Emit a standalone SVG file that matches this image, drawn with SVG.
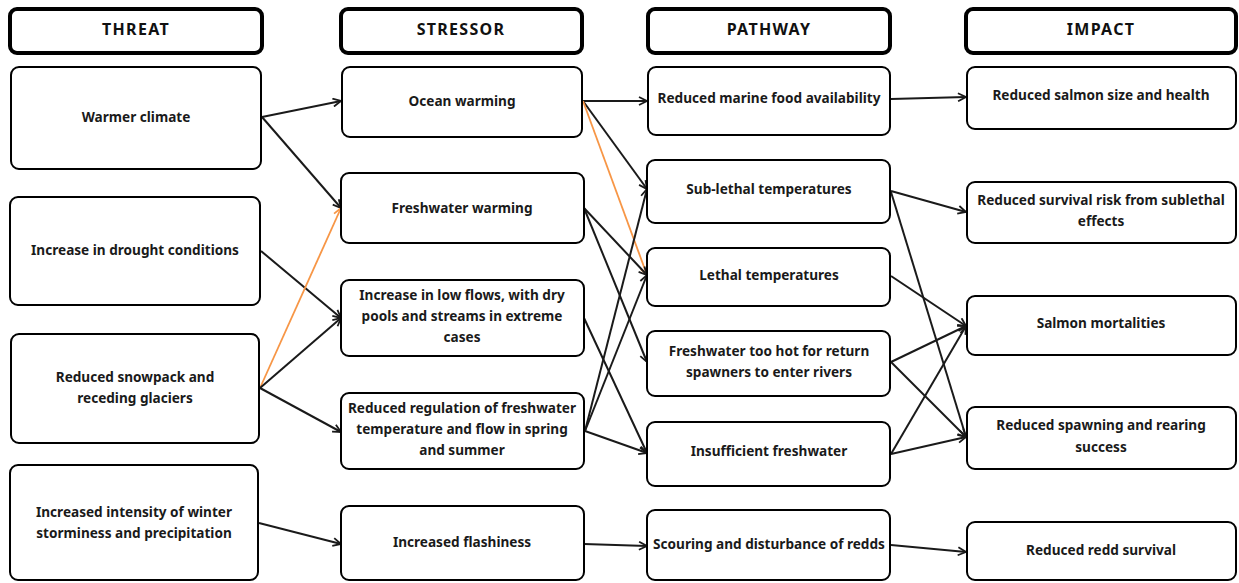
<svg xmlns="http://www.w3.org/2000/svg" width="1239" height="583" viewBox="0 0 1239 583">
<style>
.hdr{fill:#fff;stroke:#000;stroke-width:4}
.box{fill:#fff;stroke:#000;stroke-width:2}
.ht{font-family:"Noto Sans","Liberation Sans",sans-serif;font-weight:700;font-size:16px;letter-spacing:1.3px;fill:#111;text-anchor:middle}
.t{font-family:"Noto Sans","Liberation Sans",sans-serif;font-weight:700;font-size:13.6px;fill:#1a1a1a;text-anchor:middle}
.c{fill:none;stroke:#1a1a1a;stroke-width:2;marker-end:url(#arr)}
.o{fill:none;stroke:#F79646;stroke-width:1.8;marker-end:url(#arro)}
</style>
<defs>
<marker id="arr" viewBox="0 0 10 10" refX="9" refY="5" markerWidth="10" markerHeight="10" orient="auto" markerUnits="userSpaceOnUse"><path d="M1,1 L9,5 L1,9" fill="none" stroke="#1a1a1a" stroke-width="1.8"/></marker>
<marker id="arro" viewBox="0 0 10 10" refX="9" refY="5" markerWidth="10" markerHeight="10" orient="auto" markerUnits="userSpaceOnUse"><path d="M1,1 L9,5 L1,9" fill="none" stroke="#F79646" stroke-width="1.8"/></marker>
</defs>
<rect width="1239" height="583" fill="#fff"/>

<g id="connectors">
<line class="c" x1="262" y1="117" x2="341" y2="101"/>
<line class="c" x1="262" y1="117" x2="341" y2="208"/>
<line class="c" x1="261" y1="251" x2="341" y2="318"/>
<line class="o" x1="260" y1="388" x2="341" y2="208"/>
<line class="c" x1="260" y1="388" x2="341" y2="318"/>
<line class="c" x1="260" y1="388" x2="341" y2="432"/>
<line class="c" x1="259" y1="523" x2="341" y2="544"/>

<line class="c" x1="583" y1="101" x2="647" y2="101"/>
<line class="c" x1="583" y1="101" x2="647" y2="189"/>
<line class="o" x1="583" y1="101" x2="647" y2="275"/>
<line class="c" x1="584" y1="208" x2="647" y2="275"/>
<line class="c" x1="584" y1="208" x2="647" y2="362"/>
<line class="c" x1="584" y1="318" x2="647" y2="453"/>
<line class="c" x1="585" y1="431" x2="647" y2="189"/>
<line class="c" x1="585" y1="431" x2="647" y2="275"/>
<line class="c" x1="585" y1="431" x2="647" y2="453"/>
<line class="c" x1="584" y1="544" x2="647" y2="546"/>

<line class="c" x1="891" y1="99" x2="966" y2="97"/>
<line class="c" x1="891" y1="191" x2="966" y2="212"/>
<line class="c" x1="891" y1="192" x2="966" y2="437"/>
<line class="c" x1="891" y1="276" x2="966" y2="326"/>
<line class="c" x1="891" y1="362" x2="966" y2="326"/>
<line class="c" x1="891" y1="362" x2="966" y2="437"/>
<line class="c" x1="891" y1="454" x2="966" y2="326"/>
<line class="c" x1="891" y1="454" x2="966" y2="437"/>
<line class="c" x1="891" y1="545" x2="966" y2="552"/>
</g>

<g id="h-threat"><rect class="hdr" x="10" y="9" width="252" height="44" rx="7"/><text class="ht" x="136" y="35">THREAT</text></g>
<g id="h-stressor"><rect class="hdr" x="341" y="9" width="241" height="44" rx="7"/><text class="ht" x="461" y="35">STRESSOR</text></g>
<g id="h-pathway"><rect class="hdr" x="648" y="9" width="242" height="44" rx="7"/><text class="ht" x="769" y="35">PATHWAY</text></g>
<g id="h-impact"><rect class="hdr" x="966" y="9" width="270" height="44" rx="7"/><text class="ht" x="1101" y="35">IMPACT</text></g>

<g id="t1"><rect class="box" x="11" y="67" width="250" height="102" rx="8"/><text class="t" x="136" y="122">Warmer climate</text></g>
<g id="t2"><rect class="box" x="10" y="197" width="250" height="108" rx="8"/><text class="t" x="135" y="255">Increase in drought conditions</text></g>
<g id="t3"><rect class="box" x="11" y="334" width="248" height="109" rx="8"/><text class="t" x="135" y="382">Reduced snowpack and</text><text class="t" x="135" y="403">receding glaciers</text></g>
<g id="t4"><rect class="box" x="10" y="465" width="248" height="115" rx="8"/><text class="t" x="134" y="517">Increased intensity of winter</text><text class="t" x="134" y="538">storminess and precipitation</text></g>

<g id="s1"><rect class="box" x="342" y="67" width="240" height="70" rx="8"/><text class="t" x="462" y="106">Ocean warming</text></g>
<g id="s2"><rect class="box" x="341" y="173" width="243" height="70" rx="8"/><text class="t" x="462" y="213">Freshwater warming</text></g>
<g id="s3"><rect class="box" x="341" y="280" width="243" height="76" rx="8"/><text class="t" x="462" y="300">Increase in low flows, with dry</text><text class="t" x="462" y="321">pools and streams in extreme</text><text class="t" x="462" y="342">cases</text></g>
<g id="s4"><rect class="box" x="341" y="393" width="243" height="76" rx="8"/><text class="t" x="462" y="413">Reduced regulation of freshwater</text><text class="t" x="462" y="434">temperature and flow in spring</text><text class="t" x="462" y="455">and summer</text></g>
<g id="s5"><rect class="box" x="341" y="506" width="243" height="74" rx="8"/><text class="t" x="462" y="547">Increased flashiness</text></g>

<g id="p1"><rect class="box" x="648" y="67" width="242" height="68" rx="8"/><text class="t" x="769" y="103">Reduced marine food availability</text></g>
<g id="p2"><rect class="box" x="647" y="160" width="243" height="63" rx="8"/><text class="t" x="769" y="194">Sub-lethal temperatures</text></g>
<g id="p3"><rect class="box" x="647" y="248" width="243" height="58" rx="8"/><text class="t" x="769" y="280">Lethal temperatures</text></g>
<g id="p4"><rect class="box" x="647" y="331" width="243" height="65" rx="8"/><text class="t" x="769" y="356">Freshwater too hot for return</text><text class="t" x="769" y="377">spawners to enter rivers</text></g>
<g id="p5"><rect class="box" x="647" y="422" width="243" height="64" rx="8"/><text class="t" x="769" y="456">Insufficient freshwater</text></g>
<g id="p6"><rect class="box" x="647" y="510" width="243" height="70" rx="8"/><text class="t" x="769" y="549">Scouring and disturbance of redds</text></g>

<g id="i1"><rect class="box" x="967" y="67" width="269" height="62" rx="8"/><text class="t" x="1101" y="100">Reduced salmon size and health</text></g>
<g id="i2"><rect class="box" x="967" y="182" width="269" height="61" rx="8"/><text class="t" x="1101" y="205">Reduced survival risk from sublethal</text><text class="t" x="1101" y="226">effects</text></g>
<g id="i3"><rect class="box" x="967" y="296" width="269" height="59" rx="8"/><text class="t" x="1101" y="328">Salmon mortalities</text></g>
<g id="i4"><rect class="box" x="967" y="407" width="269" height="62" rx="8"/><text class="t" x="1101" y="430">Reduced spawning and rearing</text><text class="t" x="1101" y="452">success</text></g>
<g id="i5"><rect class="box" x="967" y="522" width="269" height="58" rx="8"/><text class="t" x="1101" y="555">Reduced redd survival</text></g>
</svg>
